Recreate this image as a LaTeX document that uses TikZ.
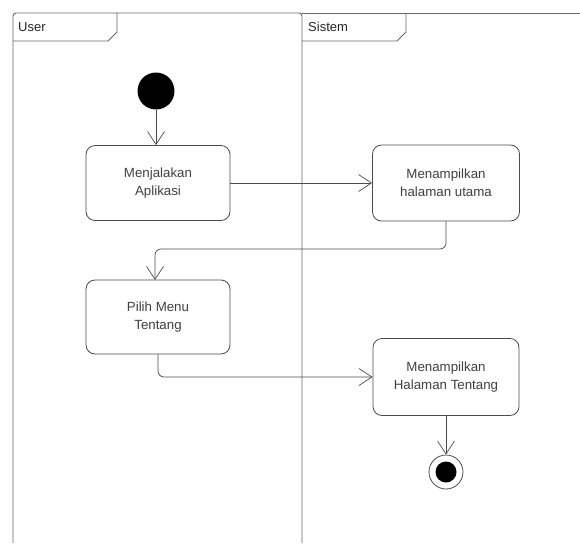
\documentclass[tikz,border=0pt]{standalone}
\usepackage{fontspec}
\setmainfont{Liberation Sans}
\usetikzlibrary{arrows.meta}
\begin{document}
\begin{tikzpicture}[x=1pt,y=-1pt,
  act/.style={draw=black!70,line width=0.8pt,rounded corners=9pt,fill=white,align=center,font=\fontsize{13.3}{18}\selectfont,text=black!75,inner sep=0pt},
  flow/.style={draw=black!70,line width=0.7pt,-{Straight Barb[length=13pt,width=17pt,line width=0.7pt]}},
  frame/.style={draw=black!60,line width=0.9pt},
  lbl/.style={font=\fontsize{13}{15}\selectfont,text=black!85,anchor=west,inner sep=0pt}]
\useasboundingbox (0,0) rectangle (580,543);
\fill[white] (0,0) rectangle (580,543);
% frames
\draw[frame,rounded corners=3pt] (13,543) -- (13,13) -- (302,13) -- (302,543);
\draw[frame] (302,13) -- (580,13);
\draw[frame] (13,41) -- (108,41) -- (117,32) -- (117,13);
\draw[frame] (302,41) -- (397,41) -- (406,32) -- (406,13);
\node[lbl] (luser) at (18,27) {User};
\node[lbl] (lsis) at (308,27) {Sistem};
% nodes
\node[circle,fill=black,minimum size=37pt,inner sep=0pt] (start) at (156,91) {};
\node[act,minimum width=144pt,minimum height=75pt] (a1) at (158,183) {Menjalakan\\Aplikasi};
\node[act,minimum width=147pt,minimum height=76pt] (a2) at (446,183) {Menampilkan\\halaman utama};
\node[act,minimum width=144pt,minimum height=74pt] (a3) at (158,317) {Pilih Menu\\Tentang};
\node[act,minimum width=146pt,minimum height=77pt] (a4) at (446,377) {Menampilkan\\Halaman Tentang};
\node[circle,draw=black!70,line width=0.8pt,minimum size=34pt,inner sep=0pt] (end) at (446,472) {};
\node[circle,fill=black,minimum size=21pt,inner sep=0pt] (endin) at (end.center) {};
% connectors
\draw[flow] (start) -- (start |- a1.north);
\draw[flow] (a1) -- (a2);
\draw[flow,rounded corners=6pt] (a2.south) -- (446,249) -- (155,249) -- (155,280);
\draw[flow,rounded corners=6pt] (a3.south) -- (158,377) -- (a4.west);
\draw[flow] (a4) -- (end);
\end{tikzpicture}
\end{document}
